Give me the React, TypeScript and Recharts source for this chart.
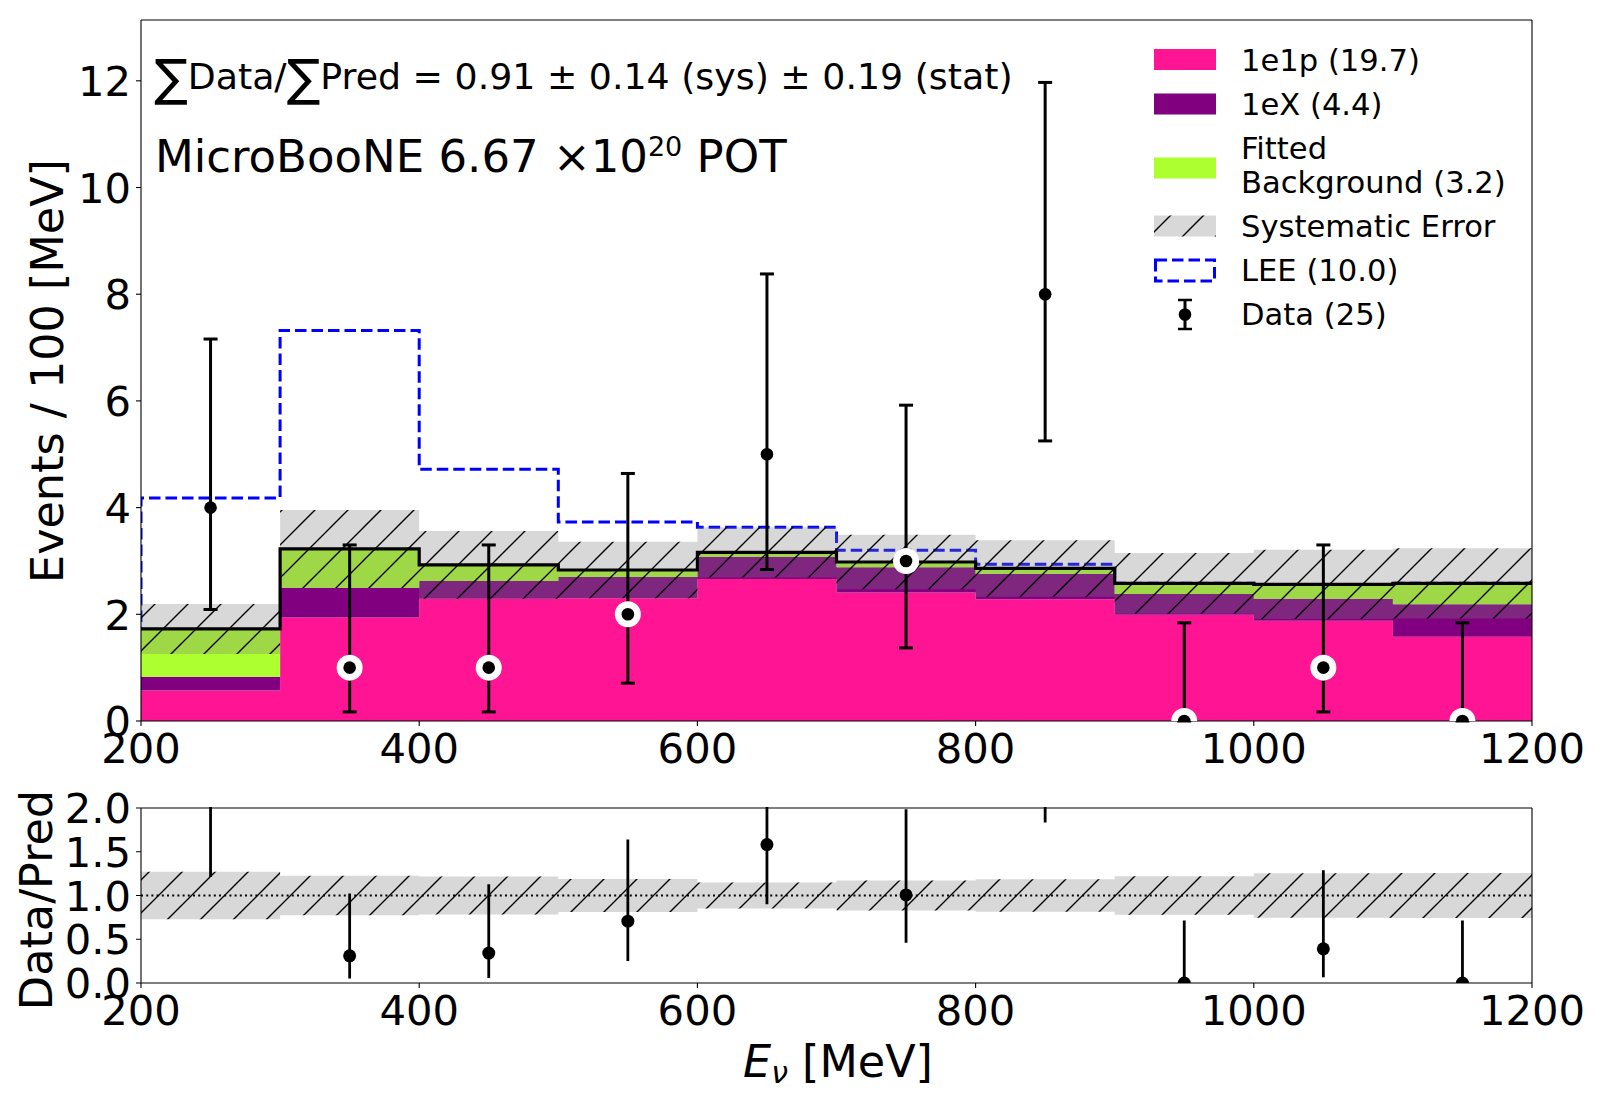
import React from "react";
import {
  Area,
  ComposedChart,
  ErrorBar,
  Line,
  ReferenceLine,
  Scatter,
  XAxis,
  YAxis,
} from "recharts";

const binEdges = [200, 300, 400, 500, 600, 700, 800, 900, 1000, 1100, 1200];
const binCenters = [250, 350, 450, 550, 650, 750, 850, 950, 1050, 1150];

// stacked prediction, events / 100 MeV
const pred1e1p = [0.57, 1.94, 2.29, 2.3, 2.66, 2.41, 2.28, 1.99, 1.88, 1.58];
const pred1eX = [0.26, 0.56, 0.335, 0.4, 0.42, 0.47, 0.48, 0.39, 0.41, 0.61];
const predBkg = [0.895, 0.725, 0.3, 0.13, 0.08, 0.1, 0.1, 0.2, 0.27, 0.39];
const sysErr = [0.47, 0.73, 0.635, 0.53, 0.47, 0.51, 0.53, 0.57, 0.65, 0.66];
const leeTotal = [4.18, 7.32, 4.72, 3.73, 3.63, 3.2, 2.94, 2.58, 2.56, 2.58];

// observed counts and their poisson intervals
const dataCounts = [4, 1, 1, 2, 5, 3, 8, 0, 1, 0];
const dataLow = [2.09, 0.17, 0.17, 0.71, 2.84, 1.37, 5.25, 0, 0.17, 0];
const dataHigh = [7.16, 3.3, 3.3, 4.64, 8.38, 5.92, 11.97, 1.84, 3.3, 1.84];

const xTicks = [200, 400, 600, 800, 1000, 1200];
const yTicksTop = [0, 2, 4, 6, 8, 10, 12];
const yTicksRatio = [0, 0.5, 1, 1.5, 2];

const FONT = '"DejaVu Sans", sans-serif';
const TICK_FS = 41.7;
const LABEL_FS = 44.5;

const totals = pred1e1p.map((v, i) => v + pred1eX[i] + predBkg[i]);

const stepRows = binEdges.map((x, k) => {
  const i = Math.min(k, totals.length - 1);
  const t = totals[i];
  return {
    x,
    e1p: pred1e1p[i],
    eX: pred1eX[i],
    bkg: predBkg[i],
    total: t,
    band: [t - sysErr[i], t + sysErr[i]],
    ratioBand: [1 - sysErr[i] / t, 1 + sysErr[i] / t],
  };
});

const leeRows = [
  { x: binEdges[0], lee: 0 },
  ...binEdges.map((x, k) => ({ x, lee: leeTotal[Math.min(k, leeTotal.length - 1)] })),
];

const pointRows = binCenters.map((x, i) => ({
  x,
  y: dataCounts[i],
  err: [dataCounts[i] - dataLow[i], dataHigh[i] - dataCounts[i]],
  ring: dataCounts[i] <= totals[i] + sysErr[i],
}));

const ratioRows = binCenters.map((x, i) => ({
  x,
  y: dataCounts[i] / totals[i],
  err: [
    (dataCounts[i] - dataLow[i]) / totals[i],
    (dataHigh[i] - dataCounts[i]) / totals[i],
  ],
}));

const XTick = (props: any) => {
  const { x, y, payload } = props;
  return (
    <text x={x} y={y + 37} textAnchor="middle" fontSize={TICK_FS} fontFamily={FONT} fill="#000">
      {payload.value}
    </text>
  );
};

const makeYTick = (digits: number) => (props: any) => {
  const { x, y, payload } = props;
  return (
    <text x={x - 5} y={y + 15.2} textAnchor="end" fontSize={TICK_FS} fontFamily={FONT} fill="#000">
      {Number(payload.value).toFixed(digits)}
    </text>
  );
};

const DataMarker = (props: any) => {
  const { cx, cy, payload } = props;
  return (
    <g>
      {payload && payload.ring ? <circle cx={cx} cy={cy} r={13} fill="#fff" /> : null}
      <circle cx={cx} cy={cy} r={6.3} fill="#000" />
    </g>
  );
};

const RatioMarker = (props: any) => (
  <circle cx={props.cx} cy={props.cy} r={6.5} fill="#000" />
);

function HatchDefs({ id }: { id: string }) {
  return (
    <defs>
      <pattern id={id} patternUnits="userSpaceOnUse" width={33} height={33}>
        <rect width={33} height={33} fill="rgb(128,128,128)" fillOpacity={0.3} />
        <path d="M0,33 L33,0 M-8,8 L8,-8 M25,41 L41,25" stroke="#000" strokeWidth={1.4} />
      </pattern>
    </defs>
  );
}

function TopPanel() {
  return (
    <ComposedChart
      width={1600}
      height={790}
      data={stepRows}
      margin={{ top: 20, right: 68, bottom: 0, left: 0 }}
    >
      <HatchDefs id="sysHatchTop" />
      <XAxis
        type="number"
        dataKey="x"
        domain={[200, 1200]}
        ticks={xTicks}
        allowDataOverflow
        height={69}
        tickSize={5}
        tickMargin={0}
        tick={<XTick />}
        axisLine={{ stroke: "#000", strokeWidth: 1.1 }}
        tickLine={{ stroke: "#000", strokeWidth: 1.1 }}
      />
      <YAxis
        type="number"
        domain={[0, 13.14]}
        ticks={yTicksTop}
        allowDataOverflow
        width={141}
        tickSize={5}
        tickMargin={0}
        tick={makeYTick(0)}
        axisLine={{ stroke: "#000", strokeWidth: 1.1 }}
        tickLine={{ stroke: "#000", strokeWidth: 1.1 }}
      />
      <Area
        data={leeRows}
        type="stepAfter"
        dataKey="lee"
        fill="none"
        stroke="#0000ff"
        strokeWidth={3}
        strokeDasharray="11.5 5"
        dot={false}
        activeDot={false}
        isAnimationActive={false}
      />
      <Area type="stepAfter" dataKey="e1p" stackId="pred" fill="#ff1493" fillOpacity={1} stroke="none" dot={false} activeDot={false} isAnimationActive={false} />
      <Area type="stepAfter" dataKey="eX" stackId="pred" fill="#800080" fillOpacity={1} stroke="none" dot={false} activeDot={false} isAnimationActive={false} />
      <Area type="stepAfter" dataKey="bkg" stackId="pred" fill="#adff2f" fillOpacity={1} stroke="none" dot={false} activeDot={false} isAnimationActive={false} />
      <Area type="stepAfter" dataKey="band" fill="url(#sysHatchTop)" fillOpacity={1} stroke="none" dot={false} activeDot={false} isAnimationActive={false} />
      <Line type="stepAfter" dataKey="total" stroke="#000" strokeWidth={3.2} dot={false} activeDot={false} isAnimationActive={false} />
      <Scatter data={pointRows} dataKey="y" fill="#000" shape={<DataMarker />} isAnimationActive={false}>
        <ErrorBar dataKey="err" direction="y" width={7} stroke="#000" strokeWidth={3} />
      </Scatter>
      <ReferenceLine y={13.14} stroke="#000" strokeWidth={1.1} />
      <ReferenceLine x={1200} stroke="#000" strokeWidth={1.1} />
    </ComposedChart>
  );
}

function RatioPanel() {
  return (
    <ComposedChart
      width={1600}
      height={310}
      data={stepRows}
      margin={{ top: 18, right: 68, bottom: 0, left: 0 }}
    >
      <HatchDefs id="sysHatchRatio" />
      <XAxis
        type="number"
        dataKey="x"
        domain={[200, 1200]}
        ticks={xTicks}
        allowDataOverflow
        height={117}
        tickSize={5}
        tickMargin={0}
        tick={<XTick />}
        axisLine={{ stroke: "#000", strokeWidth: 1.1 }}
        tickLine={{ stroke: "#000", strokeWidth: 1.1 }}
      />
      <YAxis
        type="number"
        domain={[0, 2]}
        ticks={yTicksRatio}
        allowDataOverflow
        width={141}
        tickSize={5}
        tickMargin={0}
        tick={makeYTick(1)}
        axisLine={{ stroke: "#000", strokeWidth: 1.1 }}
        tickLine={{ stroke: "#000", strokeWidth: 1.1 }}
      />
      <Area type="stepAfter" dataKey="ratioBand" fill="url(#sysHatchRatio)" fillOpacity={1} stroke="none" dot={false} activeDot={false} isAnimationActive={false} />
      <ReferenceLine y={1} stroke="#000" strokeWidth={2} strokeDasharray="2 3.2" />
      <Scatter data={ratioRows} dataKey="y" fill="#000" shape={<RatioMarker />} isAnimationActive={false}>
        <ErrorBar dataKey="err" direction="y" width={0} stroke="#000" strokeWidth={2.8} />
      </Scatter>
      <ReferenceLine y={2} stroke="#000" strokeWidth={1.1} />
      <ReferenceLine x={1200} stroke="#000" strokeWidth={1.1} />
    </ComposedChart>
  );
}

function Overlay() {
  const legendText = { fontSize: 30.6, fontFamily: FONT, fill: "#000" };
  return (
    <svg
      width={1600}
      height={1100}
      style={{ position: "absolute", left: 0, top: 0, pointerEvents: "none" }}
    >
      <HatchDefs id="sysHatchLegend" />
      {/* annotations */}
      <text x={154} y={89} fontSize={36.3} fontFamily={FONT} fill="#000">
        <tspan fontSize={50} dy={6}>∑</tspan>
        <tspan dy={-6}>Data/</tspan>
        <tspan fontSize={50} dy={6}>∑</tspan>
        <tspan dy={-6}>Pred = 0.91 ± 0.14 (sys) ± 0.19 (stat)</tspan>
      </text>
      <text x={155} y={172} fontSize={45} fontFamily={FONT} fill="#000">
        MicroBooNE 6.67 ×10
        <tspan fontSize={27} dy={-16}>20</tspan>
        <tspan dy={16}> POT</tspan>
      </text>

      {/* legend */}
      <rect x={1154} y={49} width={62} height={21} fill="#ff1493" />
      <text x={1241} y={70.5} {...legendText}>1e1p (19.7)</text>
      <rect x={1154} y={93.5} width={62} height={21} fill="#800080" />
      <text x={1241} y={114.5} {...legendText}>1eX (4.4)</text>
      <rect x={1154} y={157.5} width={62} height={21} fill="#adff2f" />
      <text x={1241} y={159} {...legendText}>Fitted</text>
      <text x={1241} y={193} {...legendText}>Background (3.2)</text>
      <rect x={1154} y={215.5} width={62} height={21} fill="url(#sysHatchLegend)" />
      <text x={1241} y={236.5} {...legendText}>Systematic Error</text>
      <rect x={1155.5} y={260} width={59} height={21} fill="none" stroke="#0000ff" strokeWidth={3} strokeDasharray="11.5 5" />
      <text x={1241} y={281} {...legendText}>LEE (10.0)</text>
      <line x1={1185} y1={300} x2={1185} y2={329} stroke="#000" strokeWidth={3} />
      <line x1={1178} y1={300} x2={1192} y2={300} stroke="#000" strokeWidth={2.5} />
      <line x1={1178} y1={329} x2={1192} y2={329} stroke="#000" strokeWidth={2.5} />
      <circle cx={1185} cy={314.5} r={6.3} fill="#000" />
      <text x={1241} y={324.5} {...legendText}>Data (25)</text>

      {/* axis labels */}
      <text
        transform="translate(63 371) rotate(-90)"
        textAnchor="middle"
        fontSize={LABEL_FS}
        fontFamily={FONT}
        fill="#000"
      >
        Events / 100 [MeV]
      </text>
      <text
        transform="translate(52 900) rotate(-90)"
        textAnchor="middle"
        fontSize={LABEL_FS}
        fontFamily={FONT}
        fill="#000"
      >
        Data/Pred
      </text>
      <text x={838} y={1077} textAnchor="middle" fontSize={LABEL_FS} fontFamily={FONT} fill="#000">
        <tspan fontStyle="italic">E</tspan>
        <tspan fontStyle="italic" fontSize={30} dy={6}>ν</tspan>
        <tspan dy={-6}> [MeV]</tspan>
      </text>
    </svg>
  );
}

export default function App() {
  return (
    <div
      style={{
        position: "absolute",
        left: 0,
        top: 0,
        width: 1600,
        height: 1100,
        background: "#fff",
        fontFamily: FONT,
      }}
    >
      <div style={{ position: "absolute", left: 0, top: 0 }}>
        <TopPanel />
      </div>
      <div
        style={{
          position: "absolute",
          left: 0,
          top: 790,
          // keep the ratio error bars inside the panel, like the reference
          clipPath: "polygon(0 0, 141px 0, 141px 17px, 1600px 17px, 1600px 310px, 0 310px)",
        }}
      >
        <RatioPanel />
      </div>
      <Overlay />
    </div>
  );
}
